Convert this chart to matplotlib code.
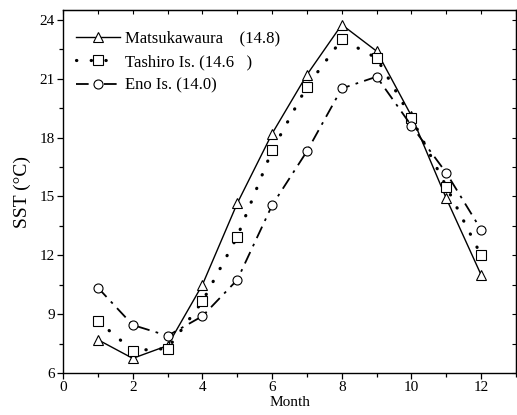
import numpy as np
import matplotlib
matplotlib.use("Agg")
import matplotlib.pyplot as plt
from matplotlib.ticker import MultipleLocator

# data
months = [1, 2, 3, 4, 5, 6, 7, 8, 9, 10, 11, 12]
matsukawaura = [7.7, 6.75, 7.4, 10.5, 14.65, 18.2, 21.2, 23.75, 22.4, 19.1, 14.9, 11.0]
tashiro = [8.65, 7.15, 7.25, 9.65, 12.95, 17.35, 20.6, 23.0, 22.05, 19.0, 15.5, 12.0]
eno = [10.35, 8.45, 7.9, 8.9, 10.75, 14.55, 17.3, 20.5, 21.1, 18.6, 16.2, 13.3]
labels = ["Matsukawaura    (14.8)", "Tashiro Is. (14.6   )", "Eno Is. (14.0)"]

plt.rcParams["font.family"] = ["Liberation Serif", "DejaVu Serif"]

fig = plt.figure(figsize=(5.17, 4.15), dpi=100)
ax = fig.add_axes([0.122, 0.101, 0.876, 0.875])

mk = dict(markerfacecolor="white", markeredgecolor="black", markersize=6.5,
          markeredgewidth=0.8, color="black")
ax.plot(months, matsukawaura, "-", marker="^", linewidth=1.0, label=labels[0], **mk)
ax.plot(months, tashiro, linestyle=(0, (0.1, 4.5)), marker="s", linewidth=2.3,
        dash_capstyle="round", label=labels[1], **mk)
ax.plot(months, eno, linestyle=(0, (7, 3.5, 1.5, 3.5)), marker="o", linewidth=1.3,
        label=labels[2], **mk)

ax.set_xlim(0, 13)
ax.set_ylim(6, 24.5)
ax.xaxis.set_major_locator(MultipleLocator(2))
ax.xaxis.set_minor_locator(MultipleLocator(1))
ax.yaxis.set_major_locator(MultipleLocator(3))
ax.yaxis.set_minor_locator(MultipleLocator(1.5))
ax.tick_params(which="both", direction="out", labelsize=11, width=0.9)
ax.tick_params(which="major", length=4, pad=2)
ax.tick_params(which="minor", length=3)

# inward ticks on top and right
top = ax.secondary_xaxis("top")
top.xaxis.set_major_locator(MultipleLocator(1))
top.tick_params(direction="in", length=3, labeltop=False)
right = ax.secondary_yaxis("right")
right.yaxis.set_major_locator(MultipleLocator(1.5))
right.tick_params(direction="in", length=3, labelright=False)

for sp in ax.spines.values():
    sp.set_linewidth(1.0)

ax.set_xlabel("Month", fontsize=11, labelpad=1)
ax.set_ylabel("SST (\u00b0C)", fontsize=14, labelpad=6)

ax.legend(loc="upper left", frameon=False, fontsize=12, handlelength=2.6,
          handletextpad=0.3, labelspacing=0.45, borderaxespad=0.4,
          bbox_to_anchor=(0.0, 0.98))

fig.savefig("out.png", dpi=100)
